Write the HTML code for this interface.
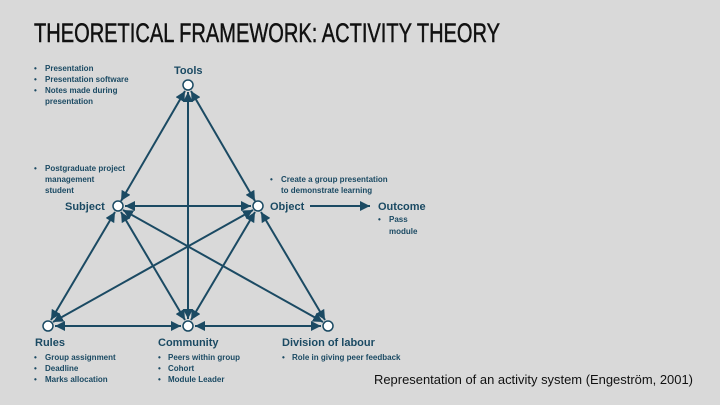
<!DOCTYPE html>
<html><head><meta charset="utf-8"><style>
html,body{margin:0;padding:0;background:#d9d9d9;}
svg{display:block}
text{font-family:"Liberation Sans",sans-serif;}
.b{font-weight:bold;fill:#1b4a63;}
</style></head><body>
<svg width="720" height="405" viewBox="0 0 720 405" xmlns="http://www.w3.org/2000/svg">
<defs>
<marker id="a" viewBox="0 0 10 10" refX="10" refY="5" markerWidth="5" markerHeight="5" orient="auto-start-reverse">
<path d="M0,0 L10,5 L0,10 z" fill="#1b4a63"/></marker>
</defs>
<rect width="720" height="405" fill="#d9d9d9"/>
<text x="34" y="42" font-size="27" fill="#111" stroke="#111" stroke-width="0.5" textLength="466" lengthAdjust="spacingAndGlyphs">THEORETICAL FRAMEWORK: ACTIVITY THEORY</text>
<g stroke="#1b4a63" stroke-width="2" fill="none" marker-start="url(#a)" marker-end="url(#a)">
<line x1="185" y1="91" x2="121" y2="201"/>
<line x1="191" y1="91" x2="255" y2="201"/>
<line x1="188" y1="92" x2="188" y2="319"/>
<line x1="125" y1="206" x2="251" y2="206"/>
<line x1="115" y1="212" x2="51" y2="320"/>
<line x1="121" y1="212" x2="185" y2="320"/>
<line x1="123" y1="210" x2="323" y2="322"/>
<line x1="253" y1="210" x2="53" y2="322"/>
<line x1="255" y1="212" x2="191" y2="320"/>
<line x1="261" y1="212" x2="325" y2="320"/>
<line x1="55" y1="326" x2="181" y2="326"/>
<line x1="195" y1="326" x2="321" y2="326"/>
</g>
<line x1="310" y1="206" x2="370" y2="206" stroke="#1b4a63" stroke-width="2" marker-end="url(#a)"/>
<g fill="#fff" stroke="#1b4a63" stroke-width="1.5">
<circle cx="188" cy="85" r="5"/><circle cx="118" cy="206" r="5"/><circle cx="258" cy="206" r="5"/>
<circle cx="48" cy="326" r="5"/><circle cx="188" cy="326" r="5"/><circle cx="328" cy="326" r="5"/>
</g>
<g class="b" font-size="11">
<text x="174" y="74">Tools</text>
<text x="65" y="210">Subject</text>
<text x="270" y="210">Object</text>
<text x="378" y="210">Outcome</text>
<text x="35" y="346">Rules</text>
<text x="158" y="346">Community</text>
<text x="282" y="346">Division of labour</text>
</g>
<g class="b" font-size="8">
<text x="34" y="71">•</text><text x="45" y="71">Presentation</text>
<text x="34" y="82">•</text><text x="45" y="82">Presentation software</text>
<text x="34" y="93">•</text><text x="45" y="93">Notes made during</text>
<text x="45" y="104">presentation</text>
<text x="34" y="171">•</text><text x="45" y="171">Postgraduate project</text>
<text x="45" y="182">management</text>
<text x="45" y="193">student</text>
<text x="270" y="182">•</text><text x="281" y="182">Create a group presentation</text>
<text x="281" y="193">to demonstrate learning</text>
<text x="378" y="222">•</text><text x="389" y="222">Pass</text>
<text x="389" y="234">module</text>
<text x="34" y="360">•</text><text x="45" y="360">Group assignment</text>
<text x="34" y="371">•</text><text x="45" y="371">Deadline</text>
<text x="34" y="382">•</text><text x="45" y="382">Marks allocation</text>
<text x="158" y="360">•</text><text x="168" y="360">Peers within group</text>
<text x="158" y="371">•</text><text x="168" y="371">Cohort</text>
<text x="158" y="382">•</text><text x="168" y="382">Module Leader</text>
<text x="282" y="360">•</text><text x="292" y="360">Role in giving peer feedback</text>
</g>
<text x="374" y="384" font-size="12.5" fill="#111" textLength="319" lengthAdjust="spacingAndGlyphs">Representation of an activity system (Engeström, 2001)</text>
</svg>
</body></html>
